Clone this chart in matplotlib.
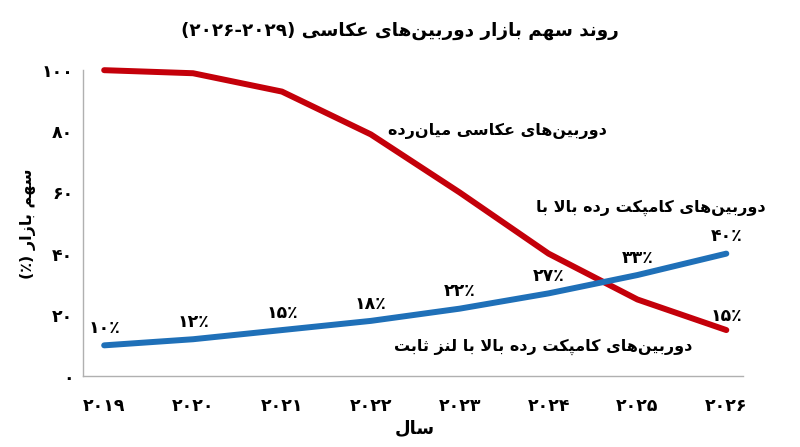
import re
import matplotlib
matplotlib.use('Agg')
import matplotlib.pyplot as plt

# data
years = [2019, 2020, 2021, 2022, 2023, 2024, 2025, 2026]
year_labels = ['۲۰۱۹', '۲۰۲۰', '۲۰۲۱', '۲۰۲۲', '۲۰۲۳', '۲۰۲۴', '۲۰۲۵', '۲۰۲۶']
midrange = [100, 99, 93, 79, 60, 40, 25, 15]
compact = [10, 12, 15, 18, 22, 27, 33, 40]
compact_labels = ['۱۰٪', '۱۲٪', '۱۵٪', '۱۸٪', '۲۲٪', '۲۷٪', '۳۳٪', '۴۰٪']
midrange_last_label = '۱۵٪'
yticks = [0, 20, 40, 60, 80, 100]
ytick_labels = ['۰', '۲۰', '۴۰', '۶۰', '۸۰', '۱۰۰']

title = 'روند سهم بازار دوربین\u200cهای عکاسی (۲۰۲۶-۲۰۲۹)'
ylabel = 'سهم بازار (٪)'
xlabel = 'سال'
midrange_name = 'دوربین\u200cهای عکاسی میان\u200cرده'
compact_name_1 = 'دوربین\u200cهای کامپکت رده بالا با'
compact_name_2 = 'دوربین\u200cهای کامپکت رده بالا با لنز ثابت'

# matplotlib has no arabic shaping, so do a small one by hand
# (isolated, final, initial, medial); right-joining letters have no initial/medial
FORMS = {
    'ا': ('\uFE8D', '\uFE8E', None, None),
    'ب': ('\uFE8F', '\uFE90', '\uFE91', '\uFE92'),
    'پ': ('\uFB56', '\uFB57', '\uFB58', '\uFB59'),
    'ت': ('\uFE95', '\uFE96', '\uFE97', '\uFE98'),
    'ث': ('\uFE99', '\uFE9A', '\uFE9B', '\uFE9C'),
    'د': ('\uFEA9', '\uFEAA', None, None),
    'ر': ('\uFEAD', '\uFEAE', None, None),
    'ز': ('\uFEAF', '\uFEB0', None, None),
    'س': ('\uFEB1', '\uFEB2', '\uFEB3', '\uFEB4'),
    'ع': ('\uFEC9', '\uFECA', '\uFECB', '\uFECC'),
    'ک': ('\uFB8E', '\uFB8F', '\uFB90', '\uFB91'),
    'ل': ('\uFEDD', '\uFEDE', '\uFEDF', '\uFEE0'),
    'م': ('\uFEE1', '\uFEE2', '\uFEE3', '\uFEE4'),
    'ن': ('\uFEE5', '\uFEE6', '\uFEE7', '\uFEE8'),
    'ه': ('\uFEE9', '\uFEEA', '\uFEEB', '\uFEEC'),
    'و': ('\uFEED', '\uFEEE', None, None),
    'ی': ('\uFBFC', '\uFBFD', '\uFBFE', '\uFBFF'),
}


def dual(c):
    return c in FORMS and FORMS[c][2] is not None


def shape(text):
    out = []
    i = 0
    n = len(text)
    while i < n:
        c = text[i]
        prev = text[i - 1] if i > 0 else None
        nxt = text[i + 1] if i + 1 < n else None
        if c == '\u200c':
            i += 1
            continue
        if c == 'ل' and nxt == 'ا':
            out.append('\uFEFC' if dual(prev) else '\uFEFB')
            i += 2
            continue
        if c not in FORMS:
            out.append(c)
            i += 1
            continue
        jp = dual(prev)
        jn = dual(c) and nxt in FORMS
        iso, fin, ini, med = FORMS[c]
        if jp and jn:
            out.append(med)
        elif jp:
            out.append(fin)
        elif jn:
            out.append(ini)
        else:
            out.append(iso)
        i += 1
    return ''.join(out)


def fa(text):
    s = shape(text)[::-1]
    s = re.sub(r'[0-9۰-۹٪%\-]+', lambda m: m.group(0)[::-1], s)
    return s.translate(str.maketrans('()', ')('))


plt.rcParams['font.family'] = ['DejaVu Sans']
plt.rcParams['font.weight'] = 'bold'

fig = plt.figure(figsize=(8, 4.47), dpi=100)
ax = fig.add_axes([0.104, 0.159, 0.825, 0.684])

red = '#C4000A'
blue = '#1F70B8'

ax.plot(years, midrange, color=red, lw=4.3, solid_capstyle='round', clip_on=False, zorder=3)
ax.plot(years, compact, color=blue, lw=4.3, solid_capstyle='round', clip_on=False, zorder=4)

for x, y, lab in zip(years, compact, compact_labels):
    ax.annotate(fa(lab), (x, y), xytext=(0, 6), textcoords='offset points',
                ha='center', va='bottom', fontsize=12.5, fontweight='bold')
ax.annotate(fa(midrange_last_label), (years[-1], midrange[-1]), xytext=(0, 4),
            textcoords='offset points', ha='center', va='bottom', fontsize=12.5, fontweight='bold')

ax.text(2024.66, 80, fa(midrange_name), ha='right', va='center', fontsize=11.5, fontweight='bold')
ax.text(2026.44, 55, fa(compact_name_1), ha='right', va='center', fontsize=11.5,
        fontweight='bold', clip_on=False)
ax.text(2025.62, 9.5, fa(compact_name_2), ha='right', va='center', fontsize=11.5, fontweight='bold')

ax.set_xlim(2018.764, 2026.19)
ax.set_ylim(0, 100)
ax.set_xticks(years)
ax.set_xticklabels([fa(t) for t in year_labels], fontsize=12.5, fontweight='bold')
ax.set_yticks(yticks)
ax.set_yticklabels([fa(t) for t in ytick_labels], fontsize=12.5, fontweight='bold')
ax.tick_params(axis='both', length=0)
ax.tick_params(axis='x', pad=15)
ax.tick_params(axis='y', pad=7)

for side in ['top', 'right']:
    ax.spines[side].set_visible(False)
for side in ['left', 'bottom']:
    ax.spines[side].set_color('#B0B0B0')
    ax.spines[side].set_linewidth(1)

fig.text(0.5, 0.93, fa(title), ha='center', va='center', fontsize=13.2, fontweight='bold')
fig.text(0.035, 0.50, fa(ylabel), ha='center', va='center', rotation=90, fontsize=11.5, fontweight='bold')
fig.text(0.519, 0.043, fa(xlabel), ha='center', va='center', fontsize=13, fontweight='bold')

fig.savefig('out.png', dpi=100)
